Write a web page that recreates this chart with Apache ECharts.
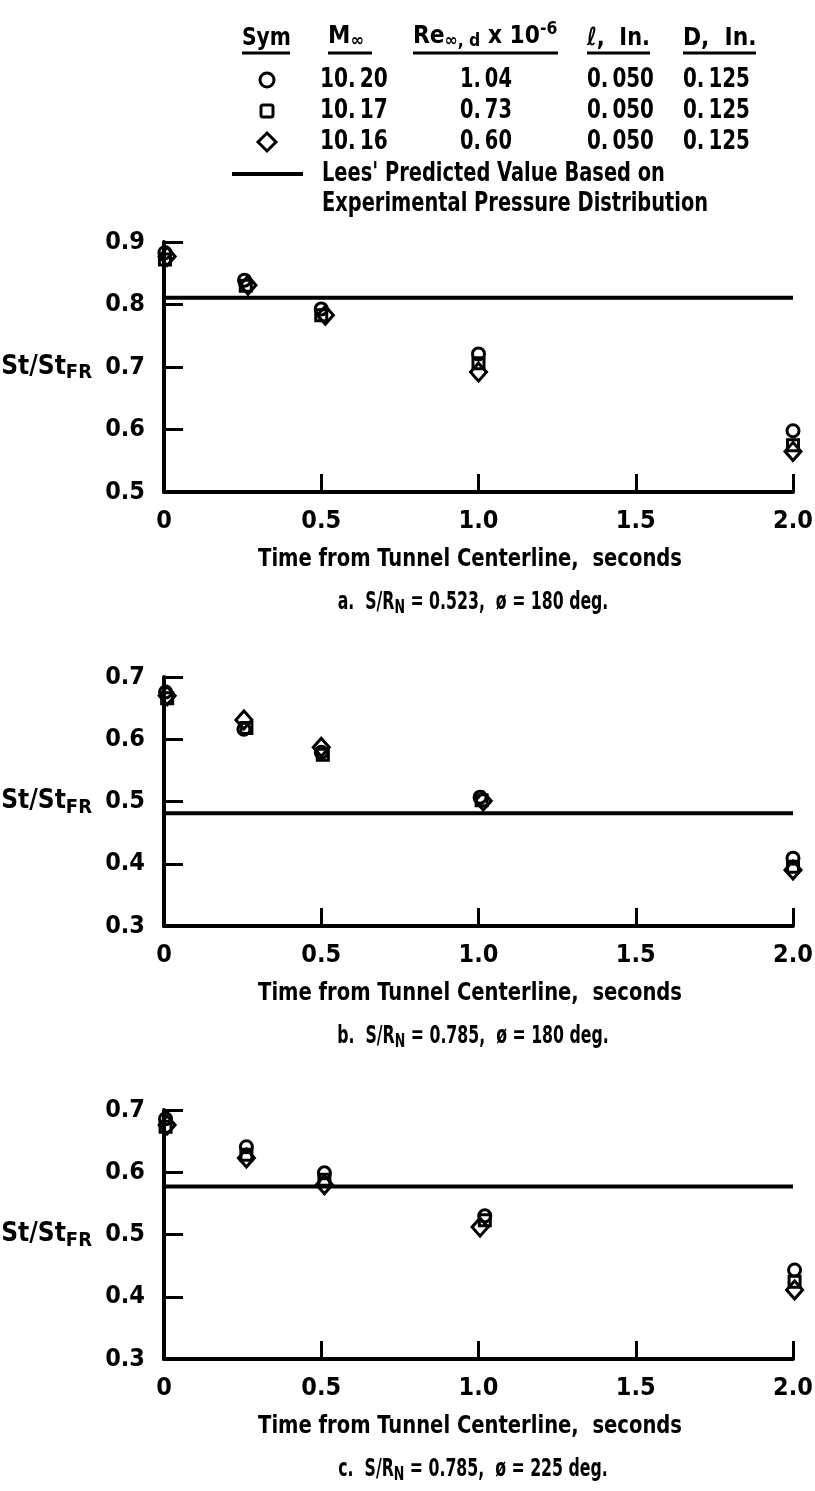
<!DOCTYPE html>
<html>
<head>
<meta charset="utf-8">
<script src="https://cdn.jsdelivr.net/npm/echarts@6/dist/echarts.min.js"></script>
<style>
html,body{margin:0;padding:0;background:#fff;}
#main{width:815px;height:1491px;}
</style>
</head>
<body>
<div id="main"></div>
<script>
// ---- data (time from tunnel centerline in s, St/St_FR) ----
// panel a : S/R_N = 0.523, phi = 180
var aCircle  = [[0.003,0.883],[0.256,0.839],[0.50,0.793],[1.00,0.721],[2.00,0.598]];
var aSquare  = [[0.003,0.872],[0.260,0.830],[0.50,0.783],[1.00,0.706],[2.00,0.575]];
var aDiamond = [[0.010,0.877],[0.267,0.831],[0.513,0.783],[1.00,0.692],[2.00,0.565]];
// panel b : S/R_N = 0.785, phi = 180
var bCircle  = [[0.005,0.676],[0.254,0.616],[0.50,0.579],[1.005,0.507],[2.00,0.409]];
var bSquare  = [[0.010,0.666],[0.262,0.618],[0.505,0.575],[1.010,0.502],[2.00,0.395]];
var bDiamond = [[0.010,0.670],[0.254,0.631],[0.50,0.587],[1.015,0.501],[2.00,0.390]];
// panel c : S/R_N = 0.785, phi = 225
var cCircle  = [[0.005,0.686],[0.262,0.641],[0.510,0.599],[1.020,0.530],[2.005,0.443]];
var cSquare  = [[0.005,0.673],[0.262,0.628],[0.510,0.588],[1.020,0.523],[2.005,0.424]];
var cDiamond = [[0.010,0.676],[0.262,0.623],[0.510,0.580],[1.005,0.512],[2.005,0.411]];

// Lees' predicted value, one per panel
var leesValues = [0.811, 0.481, 0.577];

// axes
var xTickLabels = ['0','0.5','1.0','1.5','2.0'];
var yMins = [0.5, 0.3, 0.3];
var yMaxs = [0.9, 0.7, 0.7];
var yTickLabels = [
    ['0.5','0.6','0.7','0.8','0.9'],
    ['0.3','0.4','0.5','0.6','0.7'],
    ['0.3','0.4','0.5','0.6','0.7']
];
var captionLetters = ['a.','b.','c.'];
var captionSR = ['0.523','0.785','0.785'];
var captionPhi = ['180','180','225'];

// legend table
var legSym  = ['circle','square','diamond'];
var legMach = ['10.\u200920','10.\u200917','10.\u200916'];
var legRe   = ['1.\u200904','0.\u200973','0.\u200960'];
var legL    = ['0.\u2009050','0.\u2009050','0.\u2009050'];
var legD    = ['0.\u2009125','0.\u2009125','0.\u2009125'];

var FONT = '"DejaVu Sans Condensed","DejaVu Sans",sans-serif';
var gridTops = [242, 677, 1110];
var panelData = [[aCircle,aSquare,aDiamond],[bCircle,bSquare,bDiamond],[cCircle,cSquare,cDiamond]];

var grids=[], xAxes=[], yAxes=[], series=[], graphics=[];

// text helper, sx squeezes the text horizontally (source font is very condensed)
function txt(x, y, text, size, align, sx, rich){
    var o = {type:'text', x:x, y:y, scaleX:sx||1,
        style:{text:text, fill:'#000', fontFamily:FONT, fontWeight:'bold', fontSize:size,
            align:align||'left', verticalAlign:'middle'}};
    if(rich) o.style.rich = rich;
    return o;
}

for(var i=0;i<3;i++){
    grids.push({left:164, width:629, top:gridTops[i], height:(i==0?250:249), outerBoundsMode:'none', containLabel:false});
    xAxes.push({
        gridIndex:i, type:'value', min:0, max:2, interval:0.5,
        axisLine:{onZero:false, lineStyle:{color:'#000', width:4}},
        axisTick:{inside:true, length:18, lineStyle:{color:'#000', width:3}},
        splitLine:{show:false},
        axisLabel:{margin:17, color:'#000', fontFamily:FONT, fontWeight:'bold', fontSize:25,
            formatter:function(v){ return xTickLabels[Math.round(v/0.5)]; }}
    });
    (function(k){
        yAxes.push({
            gridIndex:k, type:'value', min:yMins[k], max:yMaxs[k], interval:0.1,
            axisLine:{show:true, onZero:false, lineStyle:{color:'#000', width:4}},
            axisTick:{show:true, inside:true, length:19, lineStyle:{color:'#000', width:3}},
            splitLine:{show:false},
            axisLabel:{margin:19, color:'#000', fontFamily:FONT, fontWeight:'bold', fontSize:25,
                formatter:function(v){ return yTickLabels[k][Math.round((v-yMins[k])/0.1)]; }},
            name:'{a|St/St}{b|FR}', nameLocation:'middle', nameRotate:0, nameGap:72,
            nameTextStyle:{rich:{
                a:{fontFamily:FONT, fontWeight:'bold', fontSize:26, color:'#000'},
                b:{fontFamily:FONT, fontWeight:'bold', fontSize:20, color:'#000', padding:[12,0,0,0]}
            }}
        });
    })(i);

    var syms = [['circle',12],['rect',11],['diamond',[16,18]]];
    for(var s=0;s<3;s++){
        series.push({
            type:'scatter', xAxisIndex:i, yAxisIndex:i, clip:false,
            symbol:syms[s][0], symbolSize:syms[s][1],
            itemStyle:{color:'rgba(0,0,0,0)', borderColor:'#000', borderWidth:3, opacity:1},
            data:panelData[i][s], z:3
        });
    }
    series.push({
        type:'line', xAxisIndex:i, yAxisIndex:i, showSymbol:false, symbol:'none',
        lineStyle:{color:'#000', width:4},
        data:[[0, leesValues[i]],[2, leesValues[i]]], z:2
    });

    var axisY = gridTops[i] + grids[i].height;
    graphics.push(txt(470, axisY+67, 'Time from Tunnel Centerline,  seconds', 25, 'center', 0.87));
    graphics.push(txt(473, axisY+110,
        '{t|'+captionLetters[i]+'  S/R}{s|N}{t| = '+captionSR[i]+',  ø = '+captionPhi[i]+' deg.}', 25, 'center', 0.7,
        {t:{fontFamily:FONT, fontWeight:'bold', fontSize:25, color:'#000'},
         s:{fontFamily:FONT, fontWeight:'bold', fontSize:20, color:'#000', padding:[12,0,0,0]}}));
}

// ---- legend table ----
var hdrRich = {
    m:{fontFamily:FONT, fontWeight:'bold', fontSize:25, color:'#000'},
    s:{fontFamily:FONT, fontWeight:'bold', fontSize:18, color:'#000', padding:[10,0,0,0]},
    p:{fontFamily:FONT, fontWeight:'bold', fontSize:18, color:'#000', padding:[0,0,14,0]}
};
graphics.push(txt(242, 38, 'Sym', 25, 'left', 0.9));
graphics.push(txt(328, 36, '{m|M}{s|∞}', 25, 'left', 1, hdrRich));
graphics.push(txt(413, 36, '{m|Re}{s|∞, d}{m| x 10}{p|-6}', 25, 'left', 0.97, hdrRich));
graphics.push(txt(587, 38, 'ℓ,  In.', 25, 'left', 0.93));
graphics.push(txt(683, 38, 'D,  In.', 25, 'left', 0.97));
var ulines = [[242,290],[328,372],[413,558],[587,650],[683,756]];
ulines.forEach(function(u){
    graphics.push({type:'line', shape:{x1:u[0], y1:53, x2:u[1], y2:53}, style:{stroke:'#000', lineWidth:3}});
});
var rowY = [80, 111, 142];
for(var r=0;r<3;r++){
    var y = rowY[r];
    if(legSym[r]=='circle') graphics.push({type:'circle', shape:{cx:267, cy:y, r:7}, style:{fill:'none', stroke:'#000', lineWidth:3}});
    if(legSym[r]=='square') graphics.push({type:'rect', shape:{x:261, y:y-6, width:12, height:12, r:2}, style:{fill:'none', stroke:'#000', lineWidth:3}});
    if(legSym[r]=='diamond') graphics.push({type:'polygon', shape:{points:[[267,y-9],[276,y],[267,y+9],[258,y]]}, style:{fill:'none', stroke:'#000', lineWidth:3}});
    graphics.push(txt(320, y, legMach[r], 27, 'left', 0.83));
    graphics.push(txt(486, y, legRe[r], 27, 'center', 0.8));
    graphics.push(txt(587, y, legL[r], 27, 'left', 0.82));
    graphics.push(txt(683, y, legD[r], 27, 'left', 0.82));
}
graphics.push({type:'line', shape:{x1:232, y1:174, x2:303, y2:174}, style:{stroke:'#000', lineWidth:4}});
graphics.push(txt(322, 174, "Lees' Predicted Value Based on", 26, 'left', 0.83));
graphics.push(txt(322, 204, 'Experimental Pressure Distribution', 26, 'left', 0.83));

var chart = echarts.init(document.getElementById('main'));
chart.setOption({
    animation:false,
    backgroundColor:'#fff',
    grid:grids, xAxis:xAxes, yAxis:yAxes, series:series,
    graphic:graphics
});
</script>
</body>
</html>
